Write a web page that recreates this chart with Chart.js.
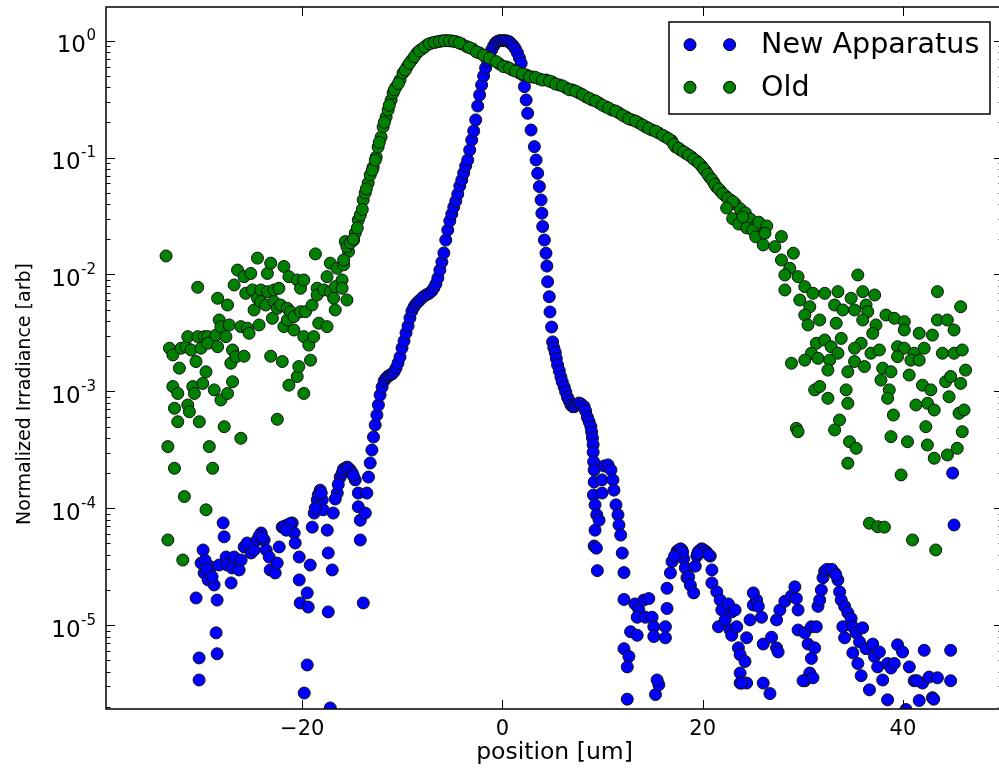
<!DOCTYPE html>
<html><head><meta charset="utf-8">
<script src="https://cdn.jsdelivr.net/npm/chart.js@4.4.1/dist/chart.umd.min.js"></script>
<style>
html,body{margin:0;padding:0;overflow:hidden;background:#fff;width:999px;height:773px;}
#wrap{position:absolute;left:0;top:0;width:1010px;height:773px;}
</style></head><body>
<div id="wrap"><canvas id="c" width="1010" height="773"></canvas></div>
<script>
// ---------- New Apparatus (blue) ----------
const newX = [
 -30.6,-30.3,-30.3,-30.1,-29.9,-29.8,-29.4,-29.1,-28.8,-28.6,
 -28.5,-28.5,-28.3,-27.9,-27.8,-27.6,-27.5,-27.1,-27.0,-26.8,
 -26.3,-26.1,-25.8,-25.5,-25.1,-24.8,-24.5,-24.1,-23.8,-23.6,
 -23.3,-23.2,-22.7,-22.5,-22.3,-22.0,-21.5,-21.0,-20.8,-20.7,
 -20.3,-20.3,-20.2,-19.8,-19.5,-19.5,-19.4,-19.2,-19.0,-18.8,
 -18.5,-18.2,-18.0,-17.9,-17.5,-17.4,-17.4,-17.2,-17.0,-16.9,
 -16.5,-16.2,-15.7,-15.2,-14.7,-14.4,-14.4,-14.2,-14.2,-13.9,
 -13.7,
 -16.0,-15.9,-15.5,-15.4,-15.0,-14.9,-16.4,-16.7,-18.4,-18.1,
 -18.7,-21.8,-21.2,-21.6,-24.3,-24.0,-29.7,-29.5,-29.0,
 -13.54,-13.38,-13.21,-13.04,-12.88,-12.71,-12.54,-12.39,-12.22,-12.02,
 -11.82,-11.62,-11.42,-11.22,-11.02,-10.83,-10.63,-10.43,-10.23,-10.03,
 -9.83,-9.63,-9.43,-9.24,-9.04,-8.84,-8.64,-8.44,-8.24,-7.94,
 -7.64,-7.35,-7.05,-6.85,-6.65,-6.45,-6.25,-6.05,-5.85,-5.66,
 -5.46,-5.26,-5.06,-4.86,-4.66,-4.46,-4.26,-4.06,-3.87,-3.67,
 -3.47,-3.27,-3.07,-2.87,-2.67,-2.47,-2.28,-2.08,-1.88,-1.68,
 -1.48,-1.28,-1.08,-0.88,-0.69,-0.49,-0.29,-0.09,0.11,0.31,
 0.51,0.71,0.90,1.10,1.30,1.50,1.70,
 1.87,2.03,2.20,2.37,2.52,2.86,3.19,3.36,3.52,3.69,
 3.86,3.94,4.02,4.19,4.35,4.44,4.51,4.68,4.75,4.91,
 5.01,5.13,5.28,5.38,5.51,5.68,5.84,5.97,6.17,6.32,
 6.50,6.67,6.84,7.02,7.17,7.37,7.66,7.86,8.16,8.31,
 8.49,8.66,8.83,8.91,8.99,9.06,9.06,9.11,9.16,9.16,
 9.09,9.25,9.42,9.25,9.16,9.38,9.48,9.65,
 9.95,10.15,10.55,10.84,11.04,11.14,9.95,11.34,11.54,
 11.64,11.81,11.97,12.14,12.14,13.23,13.63,14.12,14.62,13.46,
 14.29,14.95,15.12,12.80,13.46,12.14,12.63,12.47,15.12,16.28,
 16.28,16.44,16.44,16.78,16.94,17.44,17.93,18.10,18.27,18.43,
 18.60,18.77,19.10,19.26,19.42,19.76,20.26,20.76,20.92,20.92,
 21.41,21.75,21.91,21.58,22.25,22.57,22.90,23.24,22.74,22.90,
 23.40,23.57,23.74,24.23,23.74,23.74,24.39,24.39,24.73,25.06,
 25.39,25.56,25.88,25.06,26.05,26.88,27.38,27.54,26.05,26.72,
 27.38,27.71,28.21,28.87,29.21,29.36,29.53,29.53,30.20,30.53,
 30.86,31.35,31.19,30.86,30.70,30.20,31.02,31.52,31.69,31.85,
 32.02,32.19,32.68,33.18,33.51,33.68,33.84,34.18,34.50,34.83,
 34.0,34.18,35.0,35.33,35.67,35.98,35.0,35.5,35.83,36.66,
 36.32,36.99,37.16,37.65,37.48,37.98,38.47,38.81,39.14,39.47,
 39.97,40.64,38.47,41.13,41.63,42.13,41.96,42.62,43.45,42.95,
 44.77,44.77,45.11,
 12.47,15.29,15.62,15.45,23.90,30.03,40.31,43.08,41.40,44.97,
 17.6,17.8,18.0,19.6,19.9,20.1,20.4,20.6,32.4,32.9,
 33.3,17.2,19.5
];
const newY = [
 1.71e-5,5.25e-6,3.4e-6,3.4e-5,4.4e-5,2.8e-5,2.44e-5,3.15e-5,2.21e-5,8.6e-6,
 1.64e-5,5.7e-6,3.27e-5,7.5e-5,5.7e-5,3.83e-5,3.27e-5,2.3e-5,3.09e-5,3.83e-5,
 2.97e-5,3.61e-5,4.67e-5,5.05e-5,4.15e-5,4.4e-5,5.36e-5,6.15e-5,5.36e-5,4.4e-5,
 3.83e-5,2.97e-5,2.8e-5,3.4e-5,4.67e-5,6.9e-5,7.2e-5,7.5e-5,6.15e-5,5.05e-5,
 3.83e-5,2.44e-5,1.55e-5,2.63e-6,1.89e-5,4.57e-6,1.43e-5,3.27e-5,6.9e-5,9.1e-5,
 1.18e-4,1.43e-4,1.18e-4,9.7e-5,6.5e-5,4.15e-5,1.3e-5,1.96e-6,2.97e-5,9.1e-5,
 1.35e-4,1.85e-4,2.21e-4,2.13e-4,1.75e-4,1.35e-4,1.03e-4,7.9e-5,5.36e-5,1.55e-5,
 9.1e-5,
 2.0e-4,2.15e-4,2.25e-4,2.2e-4,2.0e-4,1.9e-4,1.6e-4,1.2e-4,1.3e-4,1.35e-4,
 1.0e-4,7.0e-5,7.4e-5,6.5e-5,5.8e-5,5.6e-5,3.6e-5,3.0e-5,2.6e-5,
 1.35e-4,1.85e-4,2.44e-4,3.15e-4,4.07e-4,5.16e-4,6.28e-4,7.65e-4,9.3e-4,1.09e-3,
 1.23e-3,1.30e-3,1.35e-3,1.38e-3,1.41e-3,1.47e-3,1.58e-3,1.75e-3,1.97e-3,2.35e-3,
 2.70e-3,3.16e-3,3.62e-3,4.25e-3,4.87e-3,5.27e-3,5.59e-3,5.82e-3,6.05e-3,6.41e-3,
 6.68e-3,6.88e-3,7.22e-3,7.67e-3,8.3e-3,9.33e-3,1.09e-2,1.28e-2,1.53e-2,1.97e-2,
 2.40e-2,2.87e-2,3.29e-2,3.78e-2,4.25e-2,4.88e-2,5.72e-2,6.43e-2,7.38e-2,8.47e-2,
 9.53e-2,0.116,0.1415,0.169,0.21,0.276,0.343,0.418,0.499,0.584,
 0.67,0.755,0.83,0.9,0.955,0.985,1.0,1.0,1.0,1.0,
 0.99,0.975,0.937,0.90,0.849,0.785,0.711,
 0.64,0.509,0.404,0.311,0.239,0.172,0.124,0.0953,0.0733,0.0565,
 0.0434,0.0334,0.0257,0.0197,0.0152,0.0118,8.66e-3,6.45e-3,4.78e-3,3.55e-3,
 2.65e-3,2.36e-3,2.15e-3,1.91e-3,1.68e-3,1.50e-3,1.33e-3,1.21e-3,1.09e-3,9.9e-4,
 8.9e-4,8.3e-4,7.65e-4,7.4e-4,7.4e-4,7.65e-4,7.95e-4,7.8e-4,7.4e-4,6.8e-4,
 6.0e-4,5.5e-4,5.0e-4,4.5e-4,4.0e-4,3.5e-4,3.02e-4,2.5e-4,2.13e-4,1.68e-4,
 1.3e-4,1.07e-4,8.8e-5,6.5e-5,4.76e-5,4.56e-5,2.93e-5,7.9e-5,
 1.75e-4,2.3e-4,2.35e-4,2.13e-4,1.75e-4,1.43e-4,1.35e-4,1.07e-4,8.8e-5,
 7.2e-5,5.9e-5,4.14e-5,2.82e-5,1.66e-5,1.52e-5,1.35e-5,1.64e-5,1.69e-5,1.17e-5,
 1.17e-5,1.17e-5,9.7e-6,8.8e-6,8.2e-6,6.3e-6,5.4e-6,4.4e-6,8.0e-6,9.7e-6,
 7.8e-6,1.39e-5,2.07e-5,2.8e-5,3.5e-5,4.3e-5,4.4e-5,3.7e-5,3.1e-5,2.55e-5,
 2.6e-5,2.2e-5,1.89e-5,3.2e-5,3.9e-5,4.4e-5,4.3e-5,3.9e-5,2.97e-5,2.3e-5,
 1.93e-5,1.64e-5,1.35e-5,9.7e-6,1.11e-5,1.52e-5,1.3e-5,1.35e-5,9.1e-6,8.2e-6,
 9.7e-6,6.4e-6,5.6e-6,4.9e-6,3.9e-6,3.2e-6,3.2e-6,7.8e-6,1.11e-5,1.49e-5,
 1.64e-5,1.45e-5,1.17e-5,1.89e-5,6.9e-6,7.9e-6,6.4e-6,5.9e-6,3.2e-6,2.6e-6,
 1.11e-5,1.35e-5,1.6e-5,1.78e-5,2.13e-5,1.69e-5,1.35e-5,9.1e-6,8.6e-6,6.9e-6,
 9.7e-6,9.7e-6,6.4e-6,5.2e-6,3.9e-6,3.35e-6,3.55e-6,1.45e-5,1.64e-5,2.0e-5,
 2.55e-5,2.9e-5,2.97e-5,2.8e-5,2.44e-5,1.93e-5,1.64e-5,1.45e-5,1.28e-5,1.14e-5,
 9.7e-6,7.8e-6,9.7e-6,8.6e-6,7.2e-6,9.5e-6,5.8e-6,4.7e-6,3.7e-6,2.8e-6,
 6.3e-6,6.9e-6,5.4e-6,5.9e-6,4.4e-6,3.4e-6,4.7e-6,4.3e-6,4.7e-6,6.8e-6,
 5.9e-6,4.4e-6,2.3e-6,3.35e-6,2.27e-6,6.1e-6,3.2e-6,3.6e-6,3.55e-6,2.4e-6,
 6.1e-6,3.35e-6,7.2e-5,
 2.33e-6,2.55e-6,3.1e-6,3.4e-6,3.2e-6,3.35e-6,1.9e-6,2.33e-6,3.35e-6,2.0e-4,
 4.4e-5,4.5e-5,4.2e-5,4.3e-5,4.5e-5,4.4e-5,4.2e-5,4.0e-5,3.0e-5,3.0e-5,
 2.7e-5,3.9e-5,4.1e-5
];

// ---------- Old (green) ----------
const oldX = [
 -33.6,-33.42,-33.42,-33.26,-32.92,-32.92,-32.76,-32.76,-32.43,-32.43,
 -32.27,-32.10,-31.93,-31.77,-31.60,-31.43,-31.43,-31.27,-31.1,-30.93,
 -30.77,-30.61,-30.44,-30.44,-30.28,-30.11,-29.94,-29.78,-29.61,-29.61,
 -29.44,-29.44,-29.28,-28.95,-28.79,-28.62,-28.45,-28.45,-28.29,-28.12,
 -28.12,-27.79,-27.62,-27.46,-27.46,-27.29,-27.13,-26.96,-26.96,-26.80,
 -26.63,-26.46,-26.13,-26.13,-25.81,-25.81,-25.64,-25.47,-25.31,-25.14,
 -24.97,-24.81,-24.47,-24.47,-24.31,-24.14,-24.14,-23.65,-23.48,-23.48,
 -23.15,-23.15,-22.98,-22.82,-22.82,-22.49,-22.49,-22.33,-22.16,-21.99,
 -21.83,-21.83,-21.49,-21.49,-21.33,-21.33,-21.16,-20.83,-20.83,-20.50,
 -20.50,-20.34,-20.17,-20.17,-19.84,-19.84,-19.84,-19.67,-19.34,-19.17,
 -19.01,-18.85,-18.68,-18.51,-18.51,-18.35,-17.85,-17.52,-17.52,-17.19,
 -17.19,-16.86,-16.70,-16.70,-16.52,-16.02,-16.02,-15.86,-15.70,-15.53,
 -15.37,-14.87,-15.53,-15.86,
 -15.20,-14.70,-14.40,-14.20,-13.91,-13.71,-13.41,-13.21,-12.91,-12.61,
 -12.42,-12.12,-11.92,-11.62,-11.42,-11.12,-10.92,-10.63,-10.23,-9.93,
 -9.53,-9.04,-8.54,-8.04,-7.54,-7.05,-6.55,-6.05,-5.56,-5.06,
 -4.56,-4.07,-3.57,-2.97,-2.28,-1.58,-0.98,-0.29,0.41,1.0,
 1.70,2.40,2.99,3.69,4.38,4.98,5.68,6.37,6.97,7.66,
 8.36,8.96,9.65,10.35,10.94,11.64,12.34,12.93,13.63,14.32,
 14.92,15.62,16.31,16.91,17.31,17.80,18.30,18.89,19.39,19.89,
 20.29,20.69,21.08,21.38,21.78,22.28,22.77,23.27,23.77,24.26,
 24.76,25.36,25.85,
 -14.9,-14.5,-14.0,-13.6,-13.0,-12.7,-12.3,-11.8,-11.3,-10.8,
 -10.4,-9.7,-9.3,-8.8,-8.3,-7.8,-7.3,-6.8,-6.3,-5.8,
 -5.3,-4.8,
 -4.3,-3.3,-2.6,-1.9,-1.3,-0.6,0.1,0.7,1.3,2.0,
 2.7,3.3,4.0,4.7,5.3,6.0,6.7,7.3,8.0,8.7,
 9.3,10.0,10.6,11.3,12.0,12.6,13.3,14.0,14.6,15.3,
 16.0,16.6,17.1,17.6,18.1,18.6,19.1,19.6,20.1,20.5,
 20.9,21.2,21.6,22.0,22.5,23.0,
 23.0,23.6,24.4,25.0,25.6,26.4,22.4,24.0,25.3,
 26.22,27.87,26.05,27.21,29.06,27.87,28.70,29.53,28.21,35.50,
 28.21,30.20,31.02,29.70,32.19,33.51,34.83,35.99,37.18,30.70,
 33.18,34.0,35.17,36.32,36.49,30.20,31.69,30.52,33.34,35.99,
 37.31,38.31,39.15,40.14,36.99,40.14,41.63,42.95,43.45,43.45,
 44.44,45.11,45.77,31.36,32.19,33.84,35.83,32.84,30.86,33.51,
 31.52,30.20,28.87,32.68,35.17,36.81,37.65,39.47,40.14,41.13,
 42.13,43.95,45.11,45.93,39.47,40.80,41.63,35.17,36.16,32.51,
 34.50,37.98,38.81,37.81,40.63,46.26,44.27,44.77,45.77,41.96,
 42.79,38.64,38.48,31.19,31.69,32.51,34.33,34.50,41.30,42.46,
 43.13,44.61,45.61,46.11,39.05,33.67,33.18,29.36,29.53,42.29,
 45.93,38.81,40.46,42.45,45.43,34.67,35.33,43.13,44.45,34.50,
 39.82,36.66,37.48,38.15,40.96,43.28
];
const oldY = [
 1.44e-2,3.37e-4,5.36e-5,2.34e-3,2.05e-3,1.10e-3,7.17e-4,2.2e-4,9.6e-4,5.5e-4,
 1.58e-3,2.34e-3,3.61e-5,1.26e-4,2.41e-3,2.94e-3,7.65e-4,6.7e-4,2.26e-3,1.10e-3,
 9.6e-4,1.8e-3,7.77e-3,2.94e-3,5.5e-4,2.34e-3,1.17e-3,2.94e-3,1.47e-3,9.7e-5,
 2.94e-3,2.58e-3,3.37e-4,2.2e-4,1.03e-3,3.03e-3,6.26e-3,2.41e-3,4.08e-3,3.58e-3,
 8.44e-4,4.99e-4,2.94e-3,5.48e-3,9.6e-4,3.7e-3,1.74e-3,2.26e-3,1.21e-3,8.13e-3,
 1.98e-3,1.09e-2,3.58e-3,3.97e-4,9.58e-3,2.0e-3,6.9e-3,3.47e-3,3.14e-3,1.02e-2,
 7.37e-3,4.97e-3,1.38e-2,6.26e-3,3.7e-3,7.37e-3,5.85e-3,5.48e-3,1.02e-2,7.13e-3,
 1.25e-2,2.0e-3,4.22e-3,7.37e-3,5.85e-3,5.14e-3,5.77e-4,7.62e-3,5.48e-3,1.8e-3,
 1.17e-2,3.58e-3,5.14e-3,4.08e-3,9.58e-3,1.13e-3,4.81e-3,4.36e-3,3.35e-3,8.97e-3,
 1.34e-3,1.63e-3,7.62e-3,4.81e-3,8.97e-3,2.94e-3,9.6e-4,4.81e-3,2.49e-3,1.85e-3,
 5.48e-3,2.94e-3,1.5e-2,7.62e-3,6.68e-3,3.83e-3,7.37e-3,9.58e-3,3.58e-3,1.25e-2,
 7.13e-3,6.26e-3,7.87e-3,4.97e-3,1.13e-2,8.97e-3,7.62e-3,1.21e-2,1.91e-2,6.05e-3,
 1.57e-2,1.97e-2,1.73e-2,1.33e-2,
 1.86e-2,2.26e-2,2.92e-2,3.23e-2,4.34e-2,4.98e-2,6.06e-2,7.1e-2,8.31e-2,0.101,
 0.123,0.150,0.183,0.222,0.255,0.311,0.357,0.402,0.461,0.529,
 0.596,0.684,0.785,0.849,0.918,0.955,0.975,0.994,1.0,0.994,
 0.975,0.937,0.889,0.849,0.785,0.726,0.684,0.632,0.596,0.561,
 0.529,0.509,0.489,0.47,0.461,0.443,0.418,0.394,0.379,0.357,
 0.33,0.311,0.293,0.271,0.255,0.241,0.222,0.21,0.198,0.183,
 0.172,0.162,0.150,0.139,0.123,0.116,0.109,0.101,0.0935,0.0848,
 0.0768,0.0683,0.0619,0.0561,0.0518,0.047,0.0434,0.0401,0.0363,0.0336,
 0.0298,0.0265,0.0236,
 2.0e-2,2.5e-2,3.6e-2,5.4e-2,7.8e-2,9.5e-2,0.135,0.2,0.28,0.38,
 0.43,0.56,0.64,0.73,0.82,0.88,0.94,0.965,0.985,1.0,
 0.997,0.985,
 0.955,0.87,0.8,0.75,0.71,0.66,0.6,0.58,0.55,0.52,
 0.49,0.485,0.46,0.45,0.425,0.41,0.38,0.37,0.345,0.32,
 0.305,0.28,0.265,0.25,0.23,0.215,0.205,0.19,0.178,0.168,
 0.155,0.145,0.13,0.12,0.112,0.105,0.097,0.09,0.08,0.072,
 0.065,0.059,0.054,0.049,0.045,0.042,
 0.030,0.027,0.025,0.024,0.028,0.026,0.037,0.031,0.021,
 2.25e-2,2.11e-2,1.79e-2,1.73e-2,1.52e-2,1.33e-2,1.13e-2,9.58e-3,9.9e-3,9.9e-3,
 7.37e-3,7.87e-3,6.9e-3,6.05e-3,6.9e-3,7.13e-3,6.26e-3,7.13e-3,6.68e-3,5.3e-3,
 5.48e-3,4.97e-3,4.97e-3,5.48e-3,4.81e-3,4.5e-3,4.08e-3,3.7e-3,3.83e-3,4.08e-3,
 3.7e-3,4.5e-3,4.22e-3,3.95e-3,3.14e-3,3.35e-3,3.14e-3,3.03e-3,7.13e-3,4.08e-3,
 4.08e-3,3.35e-3,5.3e-3,2.58e-3,2.75e-3,2.84e-3,2.58e-3,2.41e-3,2.12e-3,2.12e-3,
 1.92e-3,1.85e-3,1.74e-3,1.85e-3,2.34e-3,2.12e-3,2.26e-3,2.41e-3,2.34e-3,2.12e-3,
 2.34e-3,2.12e-3,2.12e-3,2.26e-3,1.98e-3,1.85e-3,1.85e-3,1.8e-3,1.63e-3,1.52e-3,
 1.47e-3,1.58e-3,1.47e-3,1.25e-3,1.38e-3,1.52e-3,1.21e-3,1.34e-3,1.17e-3,1.13e-3,
 1.03e-3,1.03e-3,8.73e-4,1.03e-3,1.10e-3,8.73e-4,1.03e-3,7.9e-4,7.65e-4,7.9e-4,
 6.93e-4,9.0e-4,6.5e-4,6.93e-4,6.28e-4,5.69e-4,4.68e-4,4.83e-4,4.52e-4,4.99e-4,
 4.52e-4,4.1e-4,3.71e-4,3.48e-4,3.26e-4,3.71e-4,3.26e-4,2.68e-4,2.86e-4,2.43e-4,
 1.93e-4,7.45e-5,6.96e-5,6.9e-5,5.36e-5,4.4e-5
];

const xTicks = [-20, 0, 20, 40];
const yTicks = [1e-5, 1e-4, 1e-3, 1e-2, 1e-1, 1];
const yTickExponents = ['-5', '-4', '-3', '-2', '-1', '0'];
const seriesLabels = ['New Apparatus', 'Old'];
const seriesColors = ['#0000ff', '#008000'];
const xTitle = 'position [um]';
const yTitle = 'Normalized Irradiance [arb]';

const FONT = "'DejaVu Sans', 'Liberation Sans', sans-serif";
const pts = (xs, ys) => xs.map((v, i) => ({x: v, y: ys[i]}));

const framePlugin = {
  id: 'framePlugin',
  afterDatasetsDraw(chart) {
    const {ctx, chartArea: a, scales: {x, y}} = chart;
    ctx.save();
    // inward ticks
    ctx.strokeStyle = '#000';
    ctx.lineWidth = 1;
    const maj = 9, mn = 4.5;
    ctx.beginPath();
    xTicks.forEach(v => {
      const p = Math.round(x.getPixelForValue(v)) + 0.5;
      ctx.moveTo(p, a.bottom); ctx.lineTo(p, a.bottom - maj);
      ctx.moveTo(p, a.top); ctx.lineTo(p, a.top + maj);
    });
    for (let e = -7; e <= 1; e++) {
      for (let k = 1; k <= 9; k++) {
        const v = k * Math.pow(10, e);
        if (v < y.min || v > y.max) continue;
        const p = Math.round(y.getPixelForValue(v)) + 0.5;
        const len = k === 1 ? maj : mn;
        ctx.moveTo(a.left, p); ctx.lineTo(a.left + len, p);
        ctx.moveTo(a.right, p); ctx.lineTo(a.right - len, p);
      }
    }
    ctx.stroke();
    // frame
    ctx.lineWidth = 1.5;
    ctx.strokeRect(a.left, a.top, a.right - a.left, a.bottom - a.top);

    // y tick labels (10 with superscript exponent)
    ctx.fillStyle = '#000';
    ctx.textBaseline = 'alphabetic';
    yTicks.forEach((v, i) => {
      const p = y.getPixelForValue(v);
      const rightEdge = a.left - 10;
      ctx.font = '15px ' + FONT;
      ctx.textAlign = 'right';
      const ew = ctx.measureText(yTickExponents[i]).width;
      ctx.fillText(yTickExponents[i], rightEdge, p - 0.5);
      ctx.font = '23px ' + FONT;
      ctx.fillText('10', rightEdge - ew - 0.5, p + 11.5);
    });

    // y axis title
    ctx.save();
    ctx.translate(25, 394);
    ctx.rotate(-Math.PI / 2);
    ctx.font = '19px ' + FONT;
    ctx.textAlign = 'center';
    ctx.textBaseline = 'middle';
    ctx.fillText(yTitle, 0, 0);
    ctx.restore();

    // legend
    const bw = 321, bh = 92;
    const bx = a.right - 13 - bw, by = a.top + 15;
    ctx.fillStyle = '#fff';
    ctx.fillRect(bx, by, bw, bh);
    ctx.lineWidth = 1.5;
    ctx.strokeStyle = '#000';
    ctx.strokeRect(bx, by, bw, bh);
    chart.data.datasets.forEach((ds, i) => {
      const ry = by + 22.7 + i * 42.6;
      [bx + 21, bx + 60.6].forEach(cx => {
        ctx.beginPath();
        ctx.arc(cx, ry, 6, 0, Math.PI * 2);
        ctx.fillStyle = ds.pointBackgroundColor;
        ctx.fill();
        ctx.lineWidth = 1;
        ctx.strokeStyle = '#000';
        ctx.stroke();
      });
      ctx.fillStyle = '#000';
      ctx.font = '28.6px ' + FONT;
      ctx.textAlign = 'left';
      ctx.textBaseline = 'middle';
      ctx.fillText(ds.label, bx + 92, ry + 1);
    });
    ctx.restore();
  }
};

new Chart(document.getElementById('c'), {
  type: 'scatter',
  data: {
    datasets: [
      {label: seriesLabels[0], data: pts(newX, newY), order: 2,
       pointBackgroundColor: seriesColors[0], pointBorderColor: '#111',
       pointBorderWidth: 1, pointRadius: 6, pointHoverRadius: 6, clip: 0},
      {label: seriesLabels[1], data: pts(oldX, oldY), order: 1,
       pointBackgroundColor: seriesColors[1], pointBorderColor: '#111',
       pointBorderWidth: 1, pointRadius: 6, pointHoverRadius: 6, clip: 0}
    ]
  },
  options: {
    responsive: false,
    animation: false,
    devicePixelRatio: 1,
    events: [],
    layout: {padding: {left: 0, top: 7, right: 5, bottom: 0}},
    plugins: {legend: {display: false}, tooltip: {enabled: false}},
    scales: {
      x: {
        type: 'linear', position: 'bottom', min: -39.6, max: 50,
        grid: {display: false, drawTicks: false}, border: {display: false},
        afterBuildTicks: s => { s.ticks = xTicks.map(v => ({value: v})); },
        afterFit: s => { s.height = 64; },
        ticks: {
          color: '#000', padding: 8, maxRotation: 0,
          font: {family: FONT, size: 21},
          callback: v => (v < 0 ? '\u2212' + Math.abs(v) : String(v))
        },
        title: {display: true, text: xTitle, color: '#000',
                font: {family: FONT, size: 23.5}, padding: {top: 0, bottom: 6}}
      },
      y: {
        type: 'logarithmic', position: 'left', min: 1.92e-6, max: 1.94,
        grid: {display: false, drawTicks: false}, border: {display: false},
        afterBuildTicks: s => { s.ticks = yTicks.map(v => ({value: v})); },
        afterFit: s => { s.width = 106; },
        ticks: {display: false},
        title: {display: false}
      }
    }
  },
  plugins: [framePlugin]
});
</script>
</body></html>
